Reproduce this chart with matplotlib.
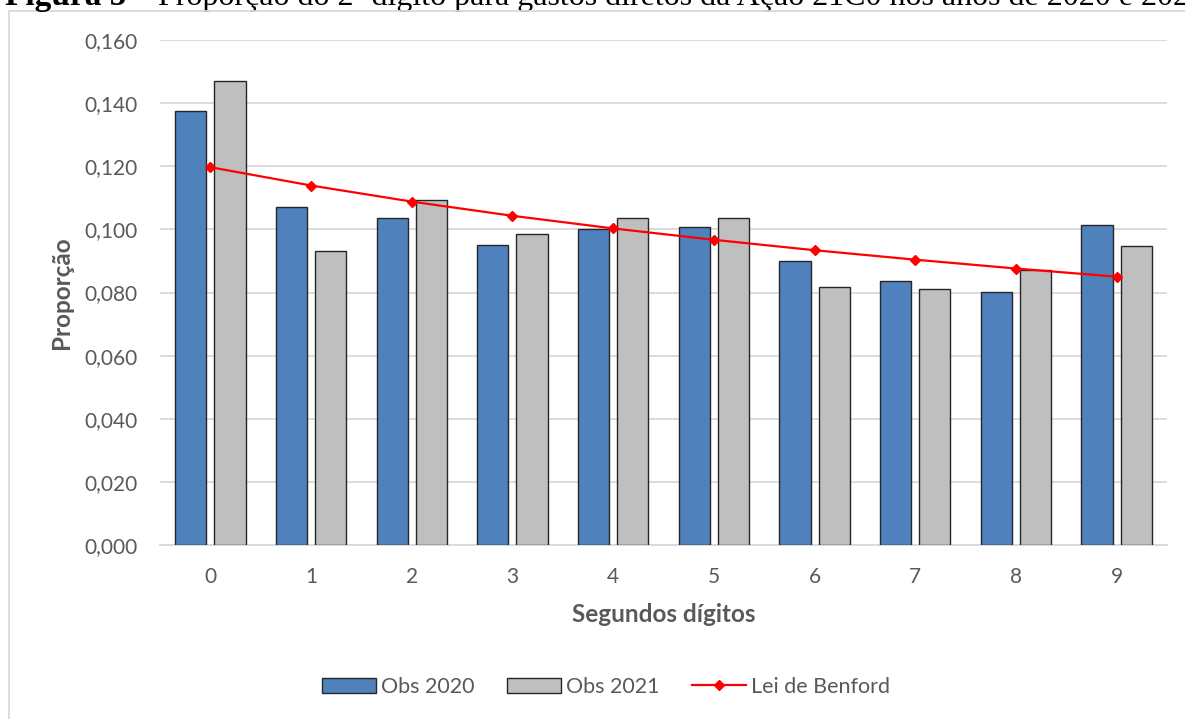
import matplotlib
matplotlib.use('Agg')
import matplotlib.pyplot as plt
from matplotlib.patches import Patch, Rectangle
from matplotlib.lines import Line2D
import numpy as np

# Second digits and observed / expected proportions
digits = ['0', '1', '2', '3', '4', '5', '6', '7', '8', '9']
obs_2020 = [0.1376, 0.1072, 0.1037, 0.0951, 0.1001, 0.1008, 0.0900, 0.0836, 0.0803, 0.1015]
obs_2021 = [0.1471, 0.0933, 0.1094, 0.0984, 0.1035, 0.1035, 0.0818, 0.0810, 0.0870, 0.0947]
benford = [0.1197, 0.1139, 0.1088, 0.1043, 0.1003, 0.0967, 0.0934, 0.0904, 0.0876, 0.0850]
yticks = [0.0, 0.02, 0.04, 0.06, 0.08, 0.10, 0.12, 0.14, 0.16]

blue = '#4f81bd'
grey = '#bfbfbf'
edge = '#262626'
txt = '#595959'

plt.rcParams['font.family'] = ['Lato', 'DejaVu Sans']

fig = plt.figure(figsize=(11.85, 7.19), dpi=100)
ax = fig.add_axes([160 / 1185, 1 - 545 / 719, (1167 - 160) / 1185, (545 - 40) / 719])

x = np.arange(len(digits))
w = 0.31
ax.bar(x - 0.195, obs_2020, w, color=blue, edgecolor=edge, linewidth=1.0, zorder=3)
ax.bar(x + 0.195, obs_2021, w, color=grey, edgecolor=edge, linewidth=1.0, zorder=3)
ax.plot(x, benford, color='#ff0000', lw=1.6, marker='D', ms=5.5, zorder=4)

ax.set_xlim(-0.5, 9.5)
ax.set_ylim(0, 0.16)
ax.set_xticks(x)
ax.set_xticklabels(digits)
ax.set_yticks(yticks)
ax.set_yticklabels([('%.3f' % v).replace('.', ',') for v in yticks])
ax.tick_params(axis='both', length=0, labelsize=15, labelcolor=txt)
ax.tick_params(axis='x', pad=16)
ax.tick_params(axis='y', pad=16)
ax.grid(axis='y', color='#d9d9d9', lw=1.3, zorder=0)
for s in ['top', 'right', 'left']:
    ax.spines[s].set_visible(False)
ax.spines['bottom'].set_color('#d9d9d9')
ax.spines['bottom'].set_linewidth(1.3)

ax.set_xlabel('Segundos dígitos', fontsize=17.5, fontweight='bold', color=txt, labelpad=11)
ax.set_ylabel('Proporção', fontsize=17.5, fontweight='bold', color=txt, labelpad=8)

handles = [Patch(facecolor=blue, edgecolor=edge, label='Obs 2020'),
           Patch(facecolor=grey, edgecolor=edge, label='Obs 2021'),
           Line2D([], [], color='#ff0000', lw=1.6, marker='D', ms=5, label='Lei de Benford')]
leg = fig.legend(handles=handles, loc='center', bbox_to_anchor=(606 / 1185, 1 - 687 / 719),
                 ncol=3, frameon=False, fontsize=15.5, handlelength=2.5, handleheight=0.7,
                 handletextpad=0.25, columnspacing=1.5)
for t in leg.get_texts():
    t.set_color(txt)

# chart area border
fig.patches.append(Rectangle((9 / 1185, -0.05), 1.2, 1 - 11 / 719 + 0.05, transform=fig.transFigure,
                             fill=False, edgecolor='#d9d9d9', lw=1.3))

# figure caption, partly cut off at the top as in the source
t1 = fig.text(5 / 1185, 1 - 5 / 719, 'Figura 5', fontsize=24, fontweight='bold',
              family='Liberation Serif', va='baseline', ha='left')
ax.annotate(' – Proporção do 2º dígito para gastos diretos da Ação 21C0 nos anos de 2020 e 2021',
            xy=(1, 0), xycoords=t1, va='bottom', ha='left', fontsize=23,
            family='Liberation Serif', annotation_clip=False)

fig.savefig('out.png', dpi=100)
